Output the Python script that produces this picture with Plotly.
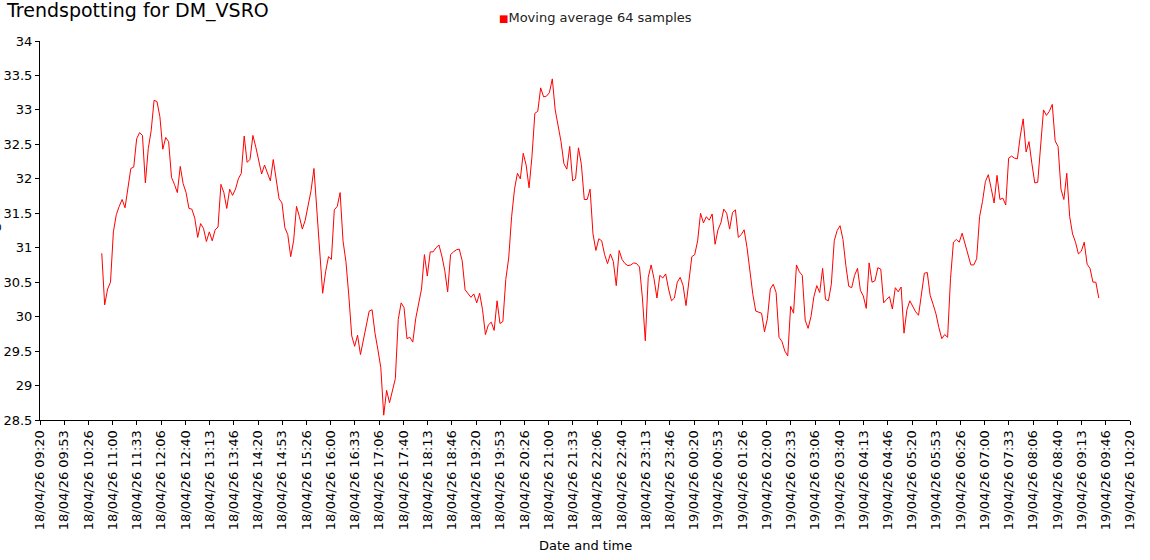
import plotly.graph_objects as go
import pandas as pd

title_text = "Trendspotting for DM_VSRO"
series_name = "Moving average 64 samples"
x_title = "Date and time"
y_title = "°C"
start_time = "2026-04-18 10:45"
sample_step = "4min"
x_range = ["2026-04-18 09:20", "2026-04-19 10:20"]
y_range = [28.5, 34]

values = [
    30.92, 30.17, 30.40, 30.50, 31.23, 31.48, 31.60, 31.70, 31.58, 31.86,
    32.15, 32.17, 32.58, 32.67, 32.63, 31.94, 32.44, 32.70, 33.14, 33.12,
    32.90, 32.43, 32.60, 32.54, 32.02, 31.92, 31.80, 32.18, 31.93, 31.80,
    31.57, 31.56, 31.43, 31.15, 31.35, 31.28, 31.09, 31.23, 31.10, 31.26,
    31.30, 31.92, 31.80, 31.57, 31.85, 31.76, 31.85, 32.00, 32.08, 32.62,
    32.24, 32.28, 32.63, 32.46, 32.27, 32.07, 32.20, 32.07, 31.97, 32.28,
    31.98, 31.71, 31.65, 31.29, 31.19, 30.87, 31.10, 31.60, 31.45, 31.27,
    31.40, 31.62, 31.83, 32.15, 31.50, 31.00, 30.34, 30.65, 30.87, 30.83,
    31.55, 31.60, 31.80, 31.10, 30.80, 30.30, 29.72, 29.57, 29.73, 29.45,
    29.66, 29.88, 30.08, 30.10, 29.76, 29.52, 29.26, 28.57, 28.93, 28.75,
    28.95, 29.10, 29.96, 30.20, 30.13, 29.68, 29.70, 29.63, 29.97, 30.20,
    30.40, 30.90, 30.59, 30.94, 30.94, 31.00, 31.04, 30.88, 30.67, 30.36,
    30.90, 30.94, 30.97, 30.98, 30.81, 30.39, 30.34, 30.28, 30.33, 30.20,
    30.34, 30.10, 29.74, 29.88, 29.92, 29.80, 30.23, 29.90, 29.93, 30.54,
    30.85, 31.45, 31.85, 32.08, 32.00, 32.37, 32.20, 31.87, 32.32, 32.95,
    32.98, 33.32, 33.19, 33.20, 33.25, 33.45, 33.00, 32.78, 32.54, 32.22,
    32.14, 32.47, 31.97, 32.00, 32.45, 32.21, 31.70, 31.70, 31.85, 31.20,
    30.96, 31.13, 31.10, 30.90, 30.77, 30.91, 30.80, 30.45, 30.96, 30.83,
    30.77, 30.74, 30.75, 30.78, 30.77, 30.72, 30.27, 29.65, 30.57, 30.75,
    30.55, 30.27, 30.60, 30.56, 30.62, 30.40, 30.23, 30.27, 30.50, 30.57,
    30.45, 30.16, 30.50, 30.87, 30.90, 31.10, 31.50, 31.36, 31.45, 31.40,
    31.49, 31.05, 31.26, 31.36, 31.56, 31.50, 31.27, 31.51, 31.55, 31.15,
    31.19, 31.26, 31.00, 30.63, 30.32, 30.08, 30.07, 30.05, 29.78, 29.97,
    30.40, 30.47, 30.35, 29.70, 29.64, 29.50, 29.43, 30.15, 30.05, 30.75,
    30.65, 30.60, 29.95, 29.83, 30.00, 30.29, 30.45, 30.35, 30.70, 30.25,
    30.23, 30.47, 31.10, 31.25, 31.32, 31.12, 30.74, 30.44, 30.42, 30.60,
    30.70, 30.38, 30.30, 30.12, 30.78, 30.50, 30.52, 30.71, 30.69, 30.20,
    30.25, 30.29, 30.11, 30.42, 30.36, 30.43, 29.76, 30.10, 30.23, 30.14,
    30.07, 30.02, 30.30, 30.63, 30.64, 30.31, 30.18, 30.04, 29.84, 29.68,
    29.74, 29.70, 30.55, 31.08, 31.12, 31.08, 31.21, 31.06, 30.93, 30.75,
    30.75, 30.84, 31.45, 31.67, 31.96, 32.06, 31.86, 31.65, 32.05, 31.70,
    31.72, 31.62, 32.30, 32.33, 32.30, 32.29, 32.62, 32.87, 32.39, 32.54,
    32.22, 31.94, 31.95, 32.45, 33.00, 32.92, 32.98, 33.08, 32.55, 32.47,
    31.85, 31.70, 32.08, 31.45, 31.20, 31.08, 30.91, 30.95, 31.08, 30.76,
    30.70, 30.50, 30.50, 30.27,
]

times = pd.date_range(start_time, periods=len(values), freq=sample_step)

font_family = "DejaVu Sans, Verdana, sans-serif"
W, H = 1150, 560
L, R, T, B = 40, 20, 41, 140

fig = go.Figure()
fig.add_trace(go.Scatter(
    x=times, y=values, mode="lines", name=series_name,
    line=dict(color="#ff0000", width=1),
    showlegend=False, hoverinfo="x+y",
))

fig.update_layout(
    width=W, height=H,
    margin=dict(l=L, r=R, t=T, b=B, autoexpand=False),
    paper_bgcolor="white", plot_bgcolor="white",
    font=dict(family=font_family, size=13, color="black"),
    title=dict(text=title_text, x=7/W, xref="container", xanchor="left",
               y=1 - 10/H, yref="container", yanchor="middle",
               font=dict(size=19, color="black", family=font_family)),
    showlegend=False,
)

fig.update_xaxes(
    range=x_range, type="date",
    tickmode="linear", tick0="2026-04-18 09:20:00", dtick=2000000,
    tickformat="%d/%m/%y %H:%M", tickangle=-90,
    showgrid=False, zeroline=False,
    showline=True, linecolor="black", linewidth=1,
    ticks="outside", ticklen=4, tickcolor="black",
    tickfont=dict(size=13), automargin=False,
)
fig.update_yaxes(
    range=y_range, tickmode="linear", tick0=28.5, dtick=0.5,
    showgrid=False, zeroline=False,
    showline=True, linecolor="black", linewidth=1,
    ticks="outside", ticklen=4, tickcolor="black",
    tickfont=dict(size=13), automargin=False,
)

plot_w = W - L - R
plot_h = H - T - B

# legend-like label: red square swatch followed by the series name
fig.add_annotation(
    text='<span style="color:#ff0000;font-size:10px">■</span>' + series_name,
    xref="paper", yref="paper",
    x=(497 - L) / plot_w, y=(H - B - 17) / plot_h,
    xanchor="left", yanchor="middle", showarrow=False,
    font=dict(size=13, color="#222222"),
)
fig.add_annotation(text=x_title, xref="paper", yref="paper",
                   x=0.5, y=(H - B - 545) / plot_h,
                   showarrow=False, font=dict(size=13),
                   xanchor="center", yanchor="middle")
fig.add_annotation(text=y_title, xref="paper", yref="paper",
                   x=(-4 - L) / plot_w, y=(H - B - 231) / plot_h,
                   showarrow=False, textangle=-90, font=dict(size=13),
                   xanchor="center", yanchor="middle")

fig.write_html("out.html",
               config={"displayModeBar": False},
               post_script="document.body.style.margin='0';document.body.style.overflow='hidden';")
